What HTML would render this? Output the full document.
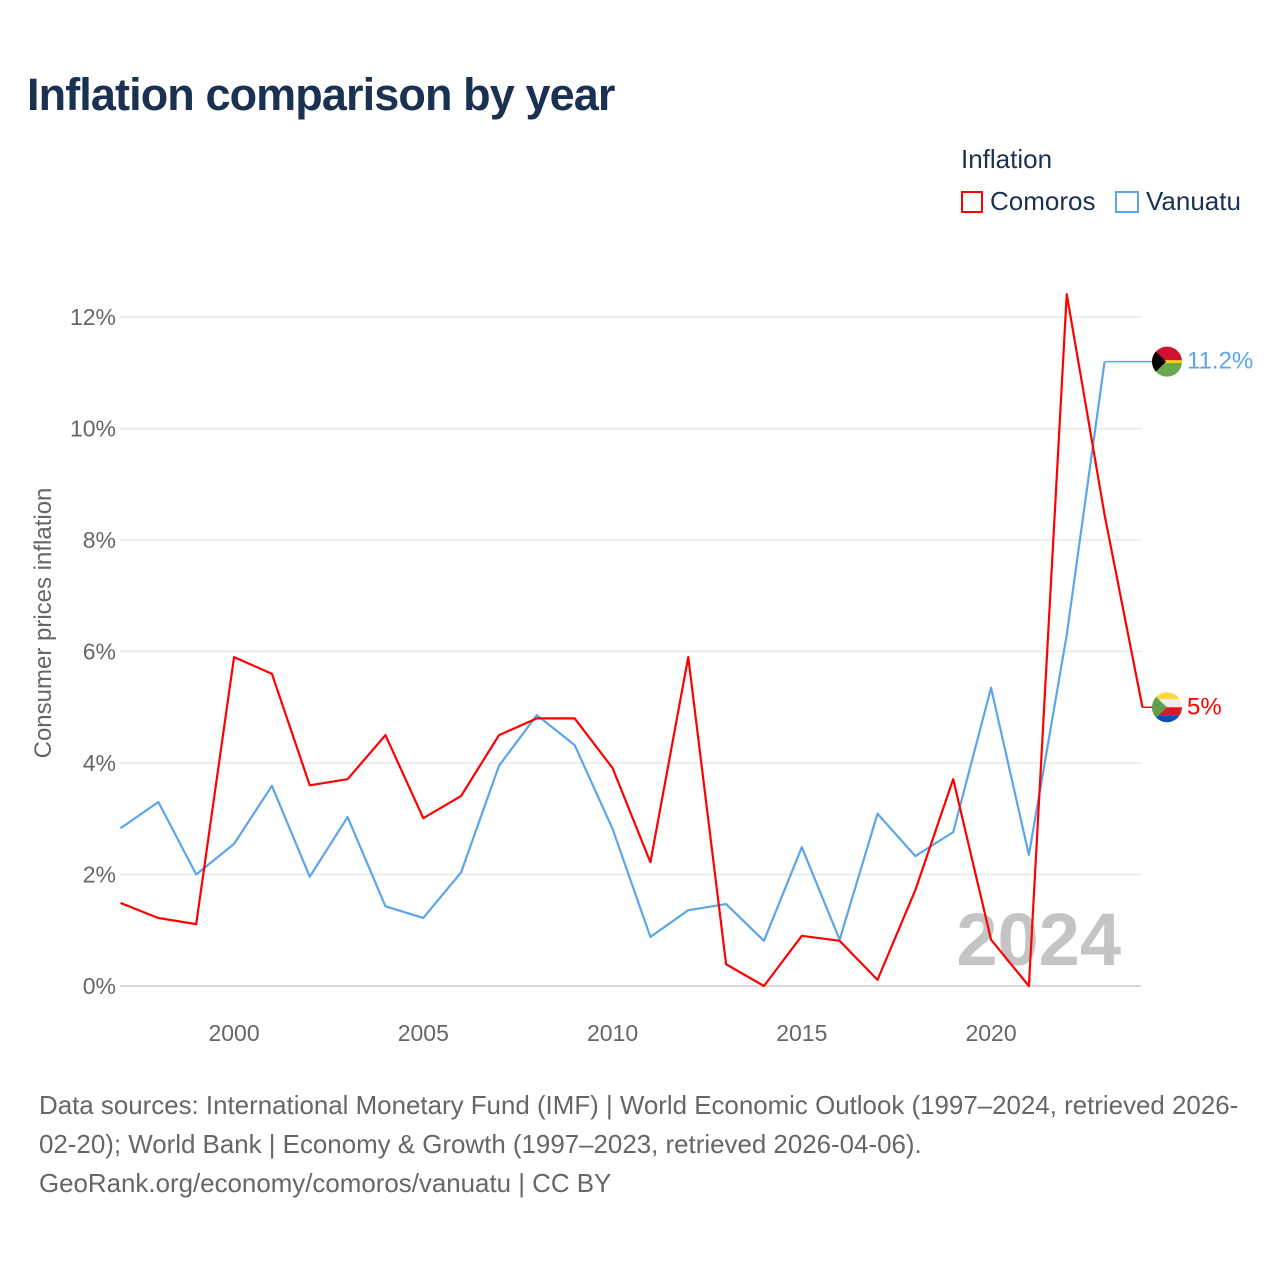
<!DOCTYPE html>
<html><head><meta charset="utf-8"><style>
body{margin:0;background:#fff;font-family:"Liberation Sans",sans-serif;}
#wrap{position:relative;width:1280px;height:1280px;overflow:hidden;}
.t{position:absolute;white-space:nowrap;}
</style></head><body>
<div id="wrap">
<div class="t" style="left:27px;top:69px;font-size:45px;font-weight:bold;color:#1a3152;letter-spacing:-0.9px;">Inflation comparison by year</div>
<div class="t" style="left:961px;top:144px;font-size:26px;color:#1a3152;">Inflation</div>
<div class="t" style="left:961px;top:186px;font-size:26px;color:#1a3152;"><span style="display:inline-block;width:22px;height:22px;border:2px solid #f00;box-sizing:border-box;vertical-align:-3px;margin-right:7px;"></span>Comoros</div>
<div class="t" style="left:1115px;top:186px;font-size:26px;color:#1a3152;"><span style="display:inline-block;width:24px;height:22px;border:2px solid #5ba6ea;box-sizing:border-box;vertical-align:-3px;margin-right:7px;"></span>Vanuatu</div>
<svg id="chart" width="1280" height="1280" style="position:absolute;left:0;top:0;"></svg>
<div class="t" style="left:39px;top:1087px;font-size:25.9px;line-height:39px;color:#666;">Data sources: International Monetary Fund (IMF) | World Economic Outlook (1997–2024, retrieved 2026-<br>02-20); World Bank | Economy &amp; Growth (1997–2023, retrieved 2026-04-06).<br>GeoRank.org/economy/comoros/vanuatu | CC BY</div>
</div>
<script>
const yearsComoros=[1997,1998,1999,2000,2001,2002,2003,2004,2005,2006,2007,2008,2009,2010,2011,2012,2013,2014,2015,2016,2017,2018,2019,2020,2021,2022,2023,2024];
const comoros=[1.49,1.22,1.11,5.9,5.6,3.6,3.71,4.5,3.01,3.41,4.5,4.8,4.8,3.91,2.22,5.9,0.39,0,0.9,0.81,0.11,1.72,3.71,0.83,0,12.41,8.45,5.0];
const yearsVanuatu=[1997,1998,1999,2000,2001,2002,2003,2004,2005,2006,2007,2008,2009,2010,2011,2012,2013,2014,2015,2016,2017,2018,2019,2020,2021,2022,2023];
const vanuatu=[2.83,3.3,2.0,2.55,3.59,1.96,3.03,1.43,1.22,2.04,3.95,4.86,4.32,2.82,0.88,1.36,1.47,0.81,2.49,0.83,3.09,2.33,2.76,5.35,2.35,6.3,11.2];
const yTicks=[0,2,4,6,8,10,12];
const xTicks=[2000,2005,2010,2015,2020];
const NS='http://www.w3.org/2000/svg';
const svg=document.getElementById('chart');
const X=y=>120.5+(y-1997)*37.85;
const Y=v=>986-v*55.75;
function el(t,a){const e=document.createElementNS(NS,t);for(const k in a)e.setAttribute(k,a[k]);svg.appendChild(e);return e;}
yTicks.forEach(v=>{
 const g=el('line',{x1:120,x2:1141,y1:Y(v),y2:Y(v),stroke:v===0?'#ccc':'#e8e8e8','stroke-width':1.5});
 
 
 const t=el('text',{x:116,y:Y(v)+8,'text-anchor':'end','font-size':23,fill:'#666','font-family':'Liberation Sans, sans-serif'});
 t.textContent=v+'%';
 
 
});
xTicks.forEach(v=>{
 const t=el('text',{x:X(v),y:1041,'text-anchor':'middle','font-size':23,fill:'#666','font-family':'Liberation Sans, sans-serif'});
 t.textContent=v;
 
 
});
const yt=el('text',{x:0,y:0,transform:'translate(51,623) rotate(-90)','text-anchor':'middle','font-size':24,fill:'#666','font-family':'Liberation Sans, sans-serif'});
yt.textContent='Consumer prices inflation';


const yr=el('text',{x:1121,y:965,'text-anchor':'end','font-size':74,'font-weight':'bold',fill:'#c4c4c4','font-family':'Liberation Sans, sans-serif'});
yr.textContent='2024';


function line(xs,vs,c,name){
 const p=el('polyline',{points:xs.map((x,i)=>X(x)+','+Y(vs[i])).join(' '),fill:'none',stroke:c,'stroke-width':2.2,'stroke-linejoin':'round'});
 
 
}
line(yearsVanuatu,vanuatu,'#5ba6ea','vanuatu-line');
line(yearsComoros,comoros,'#f00','comoros-line');
function endLabel(xs,vs,c,name,flag){
 const lx=X(xs[xs.length-1]),ly=Y(vs[vs.length-1]);
 const l=el('line',{x1:lx,x2:1152,y1:ly,y2:ly,stroke:c,'stroke-width':1.5});
 
 
 const g=el('g',{});
 
 
 const id='cp'+name;
 const cp=document.createElementNS(NS,'clipPath');cp.setAttribute('id',id);
 const cc=document.createElementNS(NS,'circle');cc.setAttribute('cx',1167);cc.setAttribute('cy',ly);cc.setAttribute('r',15);cp.appendChild(cc);g.appendChild(cp);
 const inner=document.createElementNS(NS,'g');inner.setAttribute('clip-path','url(#'+id+')');g.appendChild(inner);
 flag.forEach(f=>{const e=document.createElementNS(NS,f[0]);for(const k in f[1])e.setAttribute(k,f[1][k]);inner.appendChild(e);});
 const t=el('text',{x:1187,y:ly+7,'font-size':24,fill:c,'font-family':'Liberation Sans, sans-serif'});
 t.textContent=vs[vs.length-1]+'%';
 
 
}
const vy=Y(vanuatu[vanuatu.length-1]),cy=Y(comoros[comoros.length-1]);
endLabel(yearsVanuatu,vanuatu,'#5ba6ea','vanuatu',[
 ['rect',{x:1150,y:vy-16,width:34,height:16,fill:'#d21034'}],
 ['rect',{x:1150,y:vy,width:34,height:16,fill:'#6aa84f'}],
 ['rect',{x:1150,y:vy-1.5,width:34,height:3,fill:'#fdce12'}],
 ['polygon',{points:`1150,${vy-16} 1166,${vy} 1150,${vy+16}`,fill:'#000'}]]);
endLabel(yearsComoros,comoros,'#f00','comoros',[
 ['rect',{x:1150,y:cy-16,width:34,height:8,fill:'#ffd83d'}],
 ['rect',{x:1150,y:cy-8,width:34,height:8,fill:'#eee'}],
 ['rect',{x:1150,y:cy,width:34,height:8,fill:'#e2142a'}],
 ['rect',{x:1150,y:cy+8,width:34,height:8,fill:'#0a50b4'}],
 ['polygon',{points:`1150,${cy-16} 1167,${cy} 1150,${cy+16}`,fill:'#5fa14a'}]]);
</script>
</body></html>
